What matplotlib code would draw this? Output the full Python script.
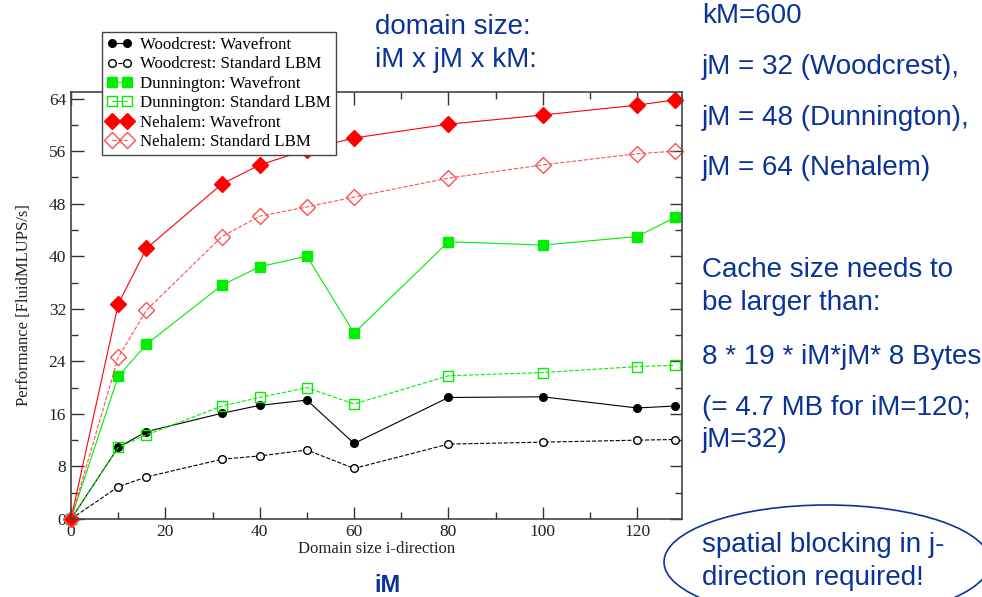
import numpy as np
import matplotlib
matplotlib.use('Agg')
import matplotlib.pyplot as plt
from matplotlib.patches import Ellipse
from matplotlib.ticker import MultipleLocator
from matplotlib.transforms import IdentityTransform

# domain size i-direction
x = [0, 10, 16, 32, 40, 50, 60, 80, 100, 120, 128]

# performance [FluidMLUPS/s]
woodcrest_wf = [0, 10.9, 13.3, 16.1, 17.3, 18.1, 11.5, 18.5, 18.6, 16.9, 17.2]
woodcrest_std = [0, 4.9, 6.4, 9.1, 9.6, 10.5, 7.7, 11.4, 11.7, 12.0, 12.1]
dunnington_wf = [0, 21.7, 26.6, 35.6, 38.4, 40.0, 28.3, 42.2, 41.7, 43.0, 45.9]
dunnington_std = [0, 10.9, 12.8, 17.2, 18.5, 20.0, 17.5, 21.8, 22.3, 23.2, 23.4]
nehalem_wf = [0, 32.7, 41.2, 51.0, 53.9, 56.2, 58.0, 60.1, 61.5, 63.0, 63.8]
nehalem_std = [0, 24.6, 31.8, 43.0, 46.1, 47.5, 49.0, 51.9, 53.9, 55.6, 56.0]

W, H = 982, 597
blue = '#0a3399'

fig = plt.figure(figsize=(W / 100, H / 100), dpi=100)
ax = fig.add_axes([71 / W, 1 - 519 / H, (682 - 71) / W, (519 - 92) / H])

serif = 'Liberation Serif'

ax.plot(x, woodcrest_wf, '-o', color='black', lw=0.8, ms=5.5,
        label='Woodcrest: Wavefront', clip_on=False)
ax.plot(x, woodcrest_std, '--o', color='black', lw=0.8, ms=5.5, mfc='white',
        mew=1.0, label='Woodcrest: Standard LBM', clip_on=False)
ax.plot(x, dunnington_wf, '-s', color='#00ee00', lw=0.8, ms=7,
        label='Dunnington: Wavefront', clip_on=False)
ax.plot(x, dunnington_std, '--s', color='#00ee00', lw=0.8, ms=7, mfc='none',
        mew=1.0, label='Dunnington: Standard LBM', clip_on=False)
ax.plot(x, nehalem_wf, '-D', color='red', lw=0.8, ms=8,
        label='Nehalem: Wavefront', clip_on=False)
ax.plot(x, nehalem_std, '--D', color='#ff5050', lw=0.8, ms=8, mfc='none',
        mew=1.0, label='Nehalem: Standard LBM', clip_on=False)

ax.set_xlim(0, 129.5)
ax.set_ylim(0, 65)
ax.xaxis.set_major_locator(MultipleLocator(20))
ax.xaxis.set_minor_locator(MultipleLocator(10))
ax.yaxis.set_major_locator(MultipleLocator(8))
ax.yaxis.set_minor_locator(MultipleLocator(4))
ax.tick_params(which='both', direction='in', top=True, right=True,
               colors='#333333', labelsize=12.5)
ax.tick_params(which='major', length=9, width=1)
ax.tick_params(which='minor', length=5, width=1)
for lab in ax.get_xticklabels() + ax.get_yticklabels():
    lab.set_family(serif)
    lab.set_color('#222222')
for s in ax.spines.values():
    s.set_color('#444444')
    s.set_linewidth(1.2)

ax.set_xlabel('Domain size i-direction', family=serif, fontsize=12,
              color='#222222', labelpad=1)
ax.set_ylabel('Performance [FluidMLUPS/s]', family=serif, fontsize=12,
              color='#222222', labelpad=12)

leg = ax.legend(loc='upper left', bbox_to_anchor=(102 / W, 1 - 32 / H),
                bbox_transform=fig.transFigure, borderaxespad=0,
                prop={'family': serif, 'size': 12.2}, numpoints=2,
                handlelength=1.45, handletextpad=0.5, labelspacing=0.2,
                borderpad=0.3, fancybox=False, framealpha=1,
                edgecolor='#444444', markerscale=1.0)
leg.get_frame().set_linewidth(1.0)
leg.set_zorder(5)

# annotation text on the slide
def ftext(px, py, s, **kw):
    fig.text(px / W, 1 - py / H, s, color=blue, family='Liberation Sans',
             va='center', **kw)

fs = 20
ftext(375, 27, 'domain size:', fontsize=fs)
ftext(375, 60, 'iM x jM x kM:', fontsize=fs)
ftext(702, 16, 'kM=600', fontsize=fs)
ftext(702, 67, 'jM = 32 (Woodcrest),', fontsize=fs)
ftext(702, 118, 'jM = 48 (Dunnington),', fontsize=fs)
ftext(702, 168, 'jM = 64 (Nehalem)', fontsize=fs)
ftext(702, 270, 'Cache size needs to', fontsize=fs)
ftext(702, 303, 'be larger than:', fontsize=fs)
ftext(702, 357, '8 * 19 * iM*jM* 8 Bytes', fontsize=fs)
ftext(702, 408, '(= 4.7 MB for iM=120;', fontsize=fs)
ftext(702, 440, 'jM=32)', fontsize=fs)
ftext(702, 545, 'spatial blocking in j-', fontsize=fs)
ftext(702, 578, 'direction required!', fontsize=fs)
ftext(387, 586, 'iM', fontsize=17, weight='bold', ha='center')

ell = Ellipse((827, H - 562), 326, 114, transform=IdentityTransform(),
              fill=False, edgecolor=blue, lw=1.2)
fig.patches.append(ell)

fig.savefig('out.png', dpi=100)
